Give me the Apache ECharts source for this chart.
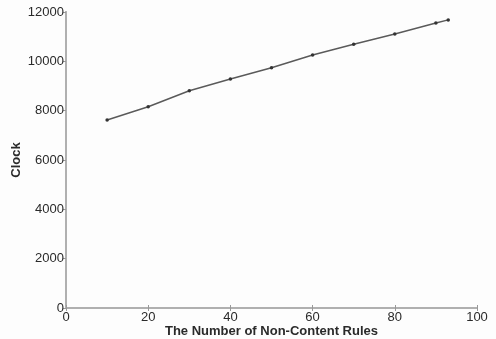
<!DOCTYPE html>
<html>
<head>
<meta charset="utf-8">
<script src="https://cdn.jsdelivr.net/npm/echarts@6/dist/echarts.min.js"></script>
<style>html,body{margin:0;padding:0;background:#fdfdfd;}#c{width:496px;height:339px;}</style>
</head>
<body>
<div id="c"></div>
<script>
const xValues = [10, 20, 30, 40, 50, 60, 70, 80, 90, 93];
const clockValues = [7620, 8160, 8810, 9280, 9740, 10260, 10690, 11110, 11550, 11680];
const xTicks = [0, 20, 40, 60, 80, 100];
const yTicks = [0, 2000, 4000, 6000, 8000, 10000, 12000];
const xName = 'The Number of Non-Content Rules';
const yName = 'Clock';

const font = 'Liberation Sans, Arial, sans-serif';
const axisColor = '#b0b0b0';
const textColor = '#2a2a2a';

const chart = echarts.init(document.getElementById('c'), null, {renderer: 'canvas'});
chart.setOption({
  backgroundColor: '#fdfdfd',
  animation: false,
  grid: {left: 66, top: 12, right: 19, bottom: 31, containLabel: false, outerBoundsMode: 'none'},
  xAxis: [{
    type: 'value', min: xTicks[0], max: xTicks[xTicks.length - 1], interval: 20,
    position: 'bottom',
    name: xName, nameLocation: 'middle', nameGap: 17, nameMoveOverlap: false,
    nameTextStyle: {fontFamily: font, fontSize: 13, fontWeight: 'bold', color: textColor},
    axisLine: {show: true, lineStyle: {color: axisColor, width: 2}},
    axisTick: {show: true, inside: true, length: 3, lineStyle: {color: '#999'}},
    axisLabel: {fontFamily: font, fontSize: 13, color: textColor, margin: 3, formatter: v => String(v)},
    splitLine: {show: false}
  }, {
    type: 'value', min: xTicks[0], max: xTicks[xTicks.length - 1], interval: 20,
    position: 'top',
    axisLine: {show: true, lineStyle: {color: axisColor, width: 2}},
    axisTick: {show: true, inside: true, length: 3, lineStyle: {color: '#999'}},
    axisLabel: {show: false},
    splitLine: {show: false}
  }],
  yAxis: [{
    type: 'value', min: yTicks[0], max: yTicks[yTicks.length - 1], interval: 2000,
    position: 'left',
    name: yName, nameLocation: 'middle', nameGap: 43, nameRotate: 90, nameMoveOverlap: false,
    nameTextStyle: {fontFamily: font, fontSize: 13, fontWeight: 'bold', color: textColor},
    axisLine: {show: true, lineStyle: {color: axisColor, width: 2}},
    axisTick: {show: true, inside: false, length: 3, lineStyle: {color: '#999'}},
    axisLabel: {fontFamily: font, fontSize: 13, color: textColor, margin: 2, formatter: v => String(v)},
    splitLine: {show: false}
  }, {
    type: 'value', min: yTicks[0], max: yTicks[yTicks.length - 1], interval: 2000,
    position: 'right',
    axisLine: {show: true, lineStyle: {color: axisColor, width: 2}},
    axisTick: {show: true, inside: true, length: 3, lineStyle: {color: '#999'}},
    axisLabel: {show: false},
    splitLine: {show: false}
  }],
  series: [{
    type: 'line',
    xAxisIndex: 0, yAxisIndex: 0,
    data: xValues.map((x, i) => [x, clockValues[i]]),
    lineStyle: {color: '#5a5a5a', width: 1.5},
    symbol: 'circle', symbolSize: 3.5,
    itemStyle: {color: '#333'},
    showSymbol: true
  }]
});
</script>
</body>
</html>
